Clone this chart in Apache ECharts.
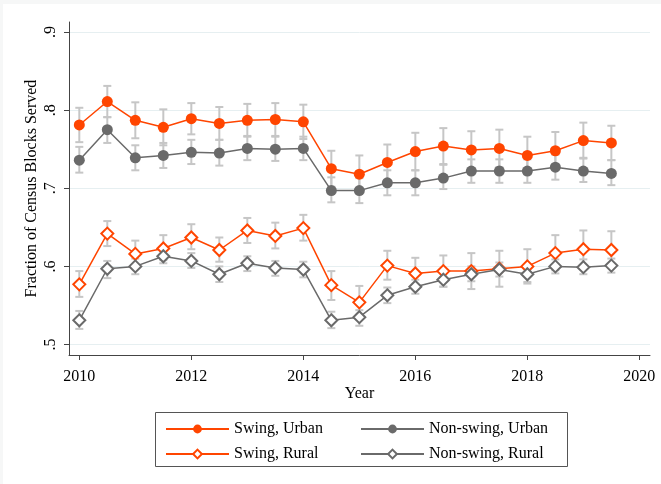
<!DOCTYPE html>
<html>
<head>
<meta charset="utf-8">
<script src="https://cdn.jsdelivr.net/npm/echarts@6/dist/echarts.min.js"></script>
<style>
  html, body { margin: 0; padding: 0; background: #fff; }
  #chart { width: 661px; height: 484px; }
</style>
</head>
<body>
<div id="chart"></div>
<script>
// half-year periods
const years = [2010, 2010.5, 2011, 2011.5, 2012, 2012.5, 2013, 2013.5, 2014, 2014.5,
               2015, 2015.5, 2016, 2016.5, 2017, 2017.5, 2018, 2018.5, 2019, 2019.5];

const swingUrban    = [0.781, 0.811, 0.787, 0.778, 0.789, 0.783, 0.787, 0.788, 0.785, 0.725, 0.718, 0.733, 0.747, 0.754, 0.749, 0.751, 0.742, 0.748, 0.761, 0.758];
const swingUrbanHi  = [0.803, 0.831, 0.810, 0.801, 0.809, 0.804, 0.808, 0.809, 0.807, 0.748, 0.742, 0.756, 0.771, 0.777, 0.773, 0.775, 0.766, 0.772, 0.784, 0.780];
const swingUrbanLo  = [0.759, 0.791, 0.764, 0.755, 0.769, 0.762, 0.766, 0.767, 0.763, 0.702, 0.694, 0.710, 0.723, 0.731, 0.725, 0.727, 0.718, 0.724, 0.738, 0.736];

const nonUrban      = [0.736, 0.775, 0.739, 0.742, 0.746, 0.745, 0.751, 0.750, 0.751, 0.697, 0.697, 0.707, 0.707, 0.713, 0.722, 0.722, 0.722, 0.727, 0.722, 0.719];
const nonUrbanHi    = [0.753, 0.791, 0.755, 0.758, 0.762, 0.762, 0.767, 0.766, 0.766, 0.714, 0.713, 0.723, 0.723, 0.730, 0.737, 0.737, 0.737, 0.743, 0.739, 0.736];
const nonUrbanLo    = [0.720, 0.758, 0.723, 0.726, 0.731, 0.729, 0.736, 0.735, 0.736, 0.682, 0.681, 0.691, 0.691, 0.699, 0.707, 0.707, 0.707, 0.711, 0.708, 0.704];

const swingRural    = [0.577, 0.642, 0.616, 0.623, 0.637, 0.621, 0.646, 0.639, 0.649, 0.576, 0.554, 0.601, 0.591, 0.594, 0.594, 0.597, 0.600, 0.617, 0.622, 0.621];
const swingRuralHi  = [0.594, 0.658, 0.633, 0.640, 0.654, 0.637, 0.662, 0.656, 0.666, 0.594, 0.575, 0.620, 0.611, 0.614, 0.617, 0.620, 0.622, 0.640, 0.646, 0.645];
const swingRuralLo  = [0.561, 0.626, 0.601, 0.608, 0.622, 0.606, 0.630, 0.623, 0.633, 0.557, 0.534, 0.583, 0.572, 0.574, 0.571, 0.574, 0.578, 0.595, 0.599, 0.598];

const nonRural      = [0.531, 0.597, 0.600, 0.613, 0.607, 0.590, 0.604, 0.598, 0.596, 0.531, 0.535, 0.563, 0.574, 0.583, 0.590, 0.596, 0.590, 0.600, 0.599, 0.601];
const nonRuralHi    = [0.543, 0.607, 0.610, 0.621, 0.617, 0.600, 0.613, 0.607, 0.606, 0.542, 0.544, 0.573, 0.583, 0.592, 0.600, 0.605, 0.600, 0.609, 0.609, 0.610];
const nonRuralLo    = [0.520, 0.585, 0.590, 0.604, 0.598, 0.580, 0.594, 0.588, 0.586, 0.521, 0.524, 0.553, 0.565, 0.574, 0.581, 0.587, 0.580, 0.591, 0.590, 0.592];

const xTicks = [2010, 2012, 2014, 2016, 2018, 2020];
const yTicks = [0.5, 0.6, 0.7, 0.8, 0.9];

const ORANGE = '#ff4500';
const GRAY = '#6a6a6a';
const ERR = '#c6c6c6';
const FONT = "'Liberation Serif', 'Times New Roman', serif";

const pairs = (vals) => years.map((y, i) => [y, vals[i]]);
const errData = [];
[[swingUrbanLo, swingUrbanHi], [nonUrbanLo, nonUrbanHi],
 [swingRuralLo, swingRuralHi], [nonRuralLo, nonRuralHi]].forEach(([lo, hi]) => {
    years.forEach((y, i) => errData.push([y, lo[i], hi[i]]));
});

function renderErr(params, api) {
    const top = api.coord([api.value(0), api.value(2)]);
    const bot = api.coord([api.value(0), api.value(1)]);
    const w = 4;
    const style = { stroke: ERR, lineWidth: 2 };
    return {
        type: 'group',
        children: [
            { type: 'line', shape: { x1: top[0], y1: top[1], x2: bot[0], y2: bot[1] }, style },
            { type: 'line', shape: { x1: top[0] - w, y1: top[1], x2: top[0] + w, y2: top[1] }, style },
            { type: 'line', shape: { x1: bot[0] - w, y1: bot[1], x2: bot[0] + w, y2: bot[1] }, style }
        ]
    };
}

function lineSeries(name, vals, color, hollow) {
    return {
        name,
        type: 'line',
        data: pairs(vals),
        z: 3,
        symbol: hollow ? 'diamond' : 'circle',
        symbolSize: hollow ? 12 : 11,
        lineStyle: { color, width: 1.5 },
        itemStyle: hollow
            ? { color: '#fff', borderColor: color, borderWidth: 2 }
            : { color, borderWidth: 0 },
        emphasis: { disabled: true },
        animation: false
    };
}

const chart = echarts.init(document.getElementById('chart'));
const legendText = { fontFamily: FONT, fontSize: 16, color: '#000' };

chart.setOption({
    backgroundColor: '#fff',
    animation: false,
    textStyle: { fontFamily: FONT },
    grid: { left: 69, right: 11, top: 22, bottom: 129 },
    xAxis: {
        type: 'value',
        min: 2009.816,
        max: 2020.19,
        name: 'Year',
        nameLocation: 'middle',
        nameGap: 31,
        nameMoveOverlap: false,
        nameTextStyle: { fontFamily: FONT, fontSize: 16, color: '#000' },
        axisLine: { onZero: false, lineStyle: { color: '#444', width: 1 } },
        axisTick: { customValues: xTicks, length: 5, lineStyle: { color: '#444' } },
        axisLabel: { customValues: xTicks, margin: 14, fontFamily: FONT, fontSize: 16, color: '#000',
                     formatter: v => String(v) },
        splitLine: { show: false }
    },
    yAxis: {
        type: 'value',
        min: 0.4866,
        max: 0.9128,
        name: 'Fraction of Census Blocks Served',
        nameLocation: 'middle',
        nameGap: 29,
        nameMoveOverlap: false,
        nameTextStyle: { fontFamily: FONT, fontSize: 16, color: '#000' },
        axisLine: { show: true, lineStyle: { color: '#444', width: 1 } },
        axisTick: { show: true, customValues: yTicks, length: 5, lineStyle: { color: '#444' } },
        axisLabel: { customValues: yTicks, rotate: 90, margin: 10, fontFamily: FONT, fontSize: 16, color: '#000',
                     formatter: v => '.' + Math.round(v * 10) },
        splitLine: { show: true, lineStyle: { color: '#e6eff1', width: 1 } }
    },
    legend: [
        {
            orient: 'vertical', left: 160, top: 416, itemWidth: 63, itemHeight: 11, itemGap: 9,
            textStyle: legendText, selectedMode: false,
            data: ['Swing, Urban', 'Swing, Rural']
        },
        {
            orient: 'vertical', left: 355, top: 416, itemWidth: 63, itemHeight: 11, itemGap: 9,
            textStyle: legendText, selectedMode: false,
            data: ['Non-swing, Urban', 'Non-swing, Rural']
        }
    ],
    graphic: [
        // faint outer frame strips
        { type: 'rect', left: 0, top: 0, z: 0, silent: true,
          shape: { width: 661, height: 4 }, style: { fill: '#f6f7f7' } },
        { type: 'rect', left: 0, top: 0, z: 0, silent: true,
          shape: { width: 3, height: 484 }, style: { fill: '#f6f7f7' } },
        {
            type: 'rect', left: 153, top: 410, z: 0,
            shape: { width: 412, height: 54 },
            style: { fill: 'none', stroke: '#555', lineWidth: 1 }
        }
    ],
    series: [
        {
            name: 'ci',
            type: 'custom',
            renderItem: renderErr,
            data: errData,
            encode: { x: 0, y: [1, 2] },
            z: 1,
            silent: true
        },
        lineSeries('Swing, Urban', swingUrban, ORANGE, false),
        lineSeries('Non-swing, Urban', nonUrban, GRAY, false),
        lineSeries('Swing, Rural', swingRural, ORANGE, true),
        lineSeries('Non-swing, Rural', nonRural, GRAY, true)
    ]
});
</script>
</body>
</html>
